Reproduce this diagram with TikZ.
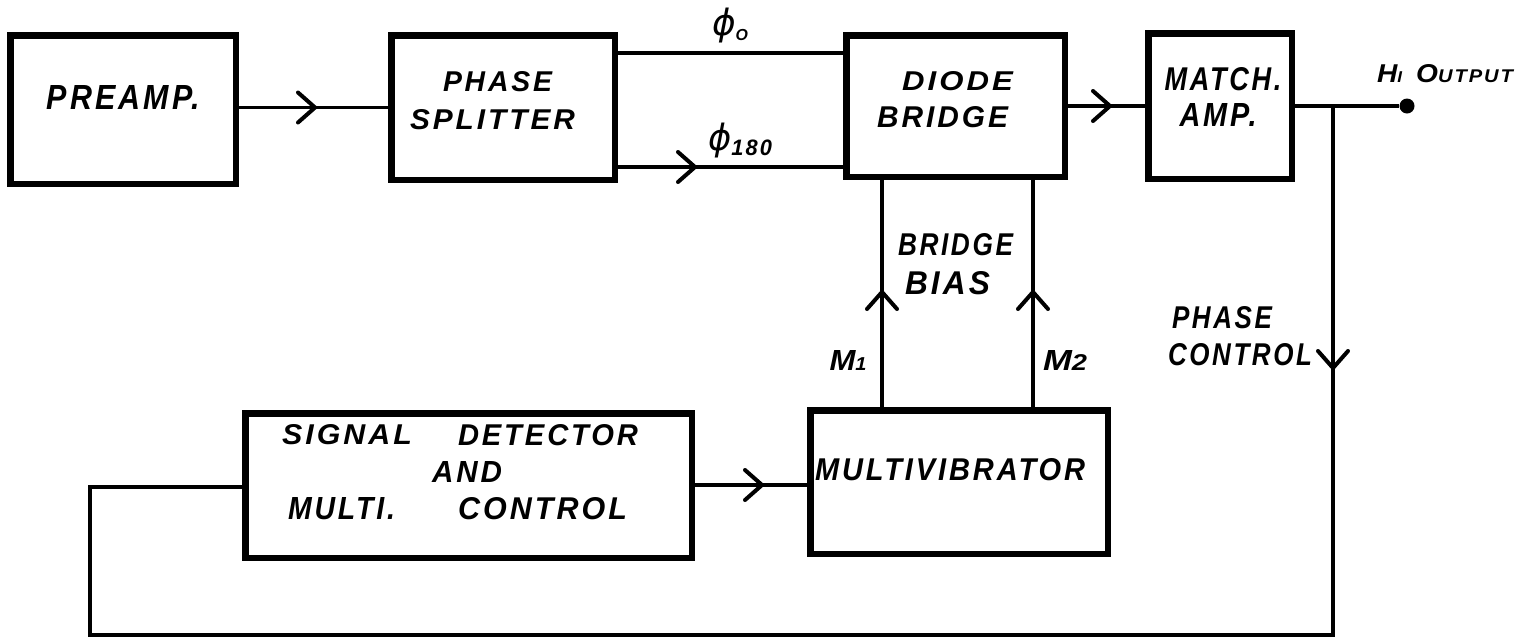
\documentclass[tikz,border=0pt]{standalone}
\usepackage{fontspec}
\usepackage{graphicx}
\usetikzlibrary{decorations.markings}
\newfontfamily\hand[LetterSpace=10]{Liberation Sans}
\newfontfamily\greekf{DejaVu Sans}
\newcommand\hfont{\hand\bfseries\itshape\fontsize{28}{30}\selectfont}
\newcommand\lbl[3]{\resizebox{#1pt}{#2pt}{\hfont #3}}
\tikzset{
  box/.style={draw, line width=6.5pt, line join=miter, inner sep=0pt},
  lab/.style={inner sep=0pt, outer sep=0pt},
  conn/.style={line width=3.5pt, line join=miter},
  chev/.style={postaction={decorate}, decoration={markings,
     mark=at position #1 with {\draw[line width=4pt, line cap=round, line join=miter]
       (-17pt,-15pt) -- (0pt,0pt) -- (-17pt,15pt);}}},
  dot/.style={circle, fill, inner sep=0pt, minimum size=15pt}
}
\begin{document}
\begin{tikzpicture}[x=1pt, y=-1pt]
\path[fill=white] (0,0) rectangle (1530,641);
\useasboundingbox (0,0) rectangle (1530,641);

% boxes
\node[box, minimum width=225.5pt, minimum height=148.5pt] (pre) at (123,109.5) {};
\node[box, minimum width=223.5pt, minimum height=144.5pt] (ps) at (503,107.5) {};
\node[box, minimum width=218.5pt, minimum height=141.5pt] (db) at (955.5,106) {};
\node[box, minimum width=143.5pt, minimum height=145.5pt] (ma) at (1220,106) {};
\node[box, minimum width=446.5pt, minimum height=144.5pt] (sd) at (468.5,485.5) {};
\node[box, minimum width=297.5pt, minimum height=143.5pt] (mv) at (959,482) {};

% box labels
\node[lab] (preT) at (123.5,97) {\lbl{153}{24}{PREAMP.}};
\node[lab] (psT1) at (497.5,82) {\lbl{109}{20}{PHASE}};
\node[lab] (psT2) at (492.5,120) {\lbl{165}{20}{SPLITTER}};
\node[lab] (dbT1) at (957.5,81) {\lbl{111}{19}{DIODE}};
\node[lab] (dbT2) at (942.5,117) {\lbl{131}{21}{BRIDGE}};
\node[lab] (maT1) at (1223,79) {\lbl{117}{23}{MATCH.}};
\node[lab] (maT2) at (1218,115) {\lbl{77}{23}{AMP.}};
\node[lab, anchor=west] (sdT1) at (282,435) {\lbl{130}{20}{SIGNAL}};
\node[lab, anchor=west] (sdT2) at (458,435) {\lbl{180}{21}{DETECTOR}};
\node[lab] (sdT3) at (467,472) {\lbl{70}{21}{AND}};
\node[lab, anchor=west] (sdT4) at (288,509) {\lbl{107}{22}{MULTI.}};
\node[lab, anchor=west] (sdT5) at (458,509) {\lbl{169}{22}{CONTROL}};
\node[lab] (mvT) at (950,470) {\lbl{270}{22}{MULTIVIBRATOR}};

% connector labels
\node[lab] (phi0) at (730,26) {\resizebox*{36pt}{35pt}{\greekf\itshape\fontsize{34}{34}\selectfont ϕ\raisebox{-4pt}{\hfont\fontsize{15}{15}\selectfont O}}};
\node[lab] (phi180) at (740,141) {\resizebox*{64pt}{35pt}{\greekf\itshape\fontsize{34}{34}\selectfont ϕ\raisebox{-4pt}{\hfont\fontsize{21}{21}\selectfont 180}}};
\node[lab] (bbT1) at (955.5,245) {\lbl{115}{22}{BRIDGE}};
\node[lab] (bbT2) at (947.5,283) {\lbl{85}{23}{BIAS}};
\node[lab] (m1) at (848,360) {\resizebox{37pt}{20pt}{\hfont M{\fontsize{18}{18}\selectfont 1}}};
\node[lab] (m2) at (1065,360) {\resizebox{44pt}{20pt}{\hfont M{\fontsize{22}{22}\selectfont 2}}};
\node[lab] (pcT1) at (1222,318) {\lbl{100}{22}{PHASE}};
\node[lab] (pcT2) at (1240,355) {\lbl{144}{22}{CONTROL}};
\node[lab] (outT) at (1445,74) {\resizebox{136pt}{18pt}{\hfont H{\fontsize{17}{17}\selectfont I}\hspace{0.5em}O{\fontsize{20}{20}\selectfont UTPUT}}};

% output terminal and corners
\node[dot] (out) at (1407,106) {};
\coordinate (j) at (1333,106);
\coordinate (c1) at (1333,635);
\coordinate (c2) at (90,635);
\coordinate (c3) at (90,487);
\coordinate (y53) at (0,53);
\coordinate (y167) at (0,167);
\coordinate (y485) at (0,485);
\coordinate (xm1) at (882,0);
\coordinate (xm2) at (1033,0);

% connectors
\draw[conn, chev=76pt] (pre.east |- ps.west) -- (ps.west);
\draw[conn] (ps.east |- y53) -- (db.west |- y53);
\draw[conn, chev=77pt] (ps.east |- y167) -- (db.west |- y167);
\draw[conn, chev=42pt] (db.east) -- (ma.west);
\draw[conn] (ma.east) -- (out);
\draw[conn, chev=262pt] (j) -- (c1) -- (c2) -- (c3) -- (sd.west |- c3);
\draw[conn, chev=67pt] (sd.east |- y485) -- (mv.west |- y485);
\draw[conn, chev=115pt] (mv.north -| xm1) -- (db.south -| xm1);
\draw[conn, chev=115pt] (mv.north -| xm2) -- (db.south -| xm2);
\end{tikzpicture}
\end{document}
